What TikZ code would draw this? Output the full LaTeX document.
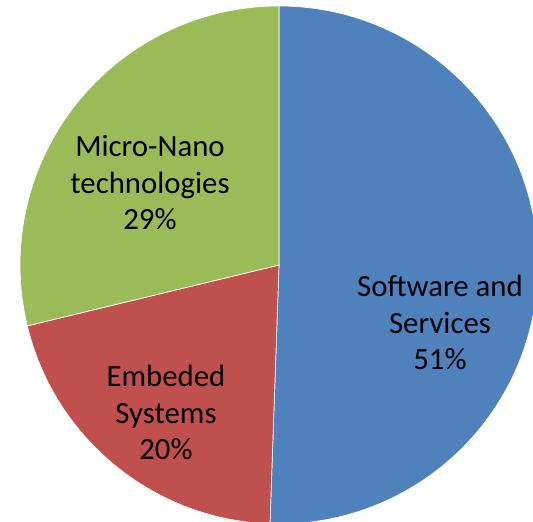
\documentclass[tikz,border=0pt]{standalone}
\usepackage{fontspec}
\setmainfont{Carlito}
\definecolor{pieblue}{HTML}{4F81BD}
\definecolor{piered}{HTML}{C0504D}
\definecolor{piegreen}{HTML}{9BBB59}
\tikzset{
  slice/.style={draw=white, line width=0.7pt, line join=round},
  lbl/.style={align=center, text=black, inner sep=0pt, anchor=base,
    font=\fontsize{30.8}{36.7}\selectfont}
}
\begin{document}
\begin{tikzpicture}[x=1pt,y=1pt]
\useasboundingbox (0,0) rectangle (533,522);
\clip (0,0) rectangle (533,522);
\coordinate (c) at (279,257);
\fill[white] (0,0) rectangle (533,522);
\filldraw[slice, fill=pieblue] (c) -- ++(90:259) arc[start angle=90, end angle=-92, radius=259] -- cycle;
\filldraw[slice, fill=piered] (c) -- ++(-92:259) arc[start angle=-92, end angle=-166.4, radius=259] -- cycle;
\filldraw[slice, fill=piegreen] (c) -- ++(193.6:259) arc[start angle=193.6, end angle=90, radius=259] -- cycle;
\node[lbl] (sw) at (440,152) {Software and\\Services\\51\%};
\node[lbl] (mn) at (150,292) {Micro-Nano\\technologies\\29\%};
\node[lbl] (es) at (166,62) {Embeded\\Systems\\20\%};
\end{tikzpicture}
\end{document}
